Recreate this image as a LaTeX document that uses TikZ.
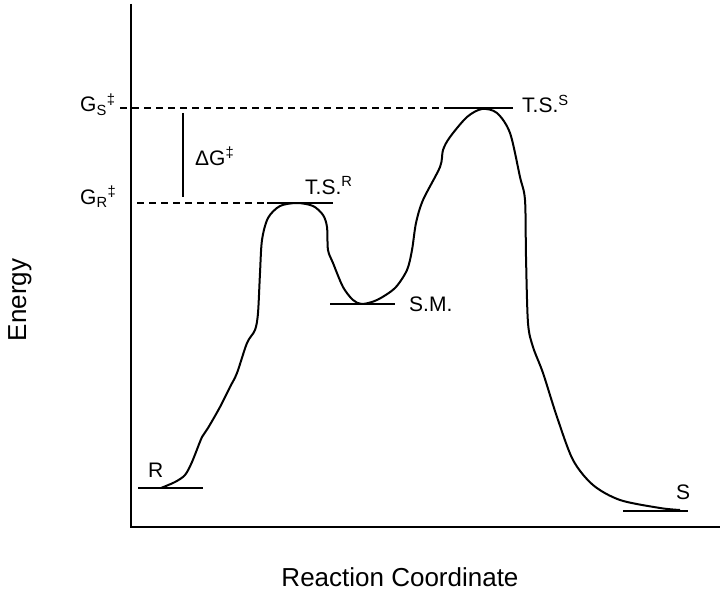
\documentclass[tikz,border=0pt]{standalone}
\usepackage{fontspec}
\setmainfont{Liberation Sans}
\begin{document}
\begin{tikzpicture}[x=1pt,y=-1pt,
  lbl/.style={font=\fontsize{21}{25}\selectfont, inner sep=0pt, anchor=base west},
  axlbl/.style={font=\fontsize{26}{30}\selectfont, inner sep=0pt, anchor=base},
  bar/.style={line width=2pt},
  axisline/.style={line width=2.2pt},
  dashline/.style={line width=1.5pt, dash pattern=on 7pt off 5pt},
  curveline/.style={line width=2pt, line join=round}]
\useasboundingbox (0,0) rectangle (725,599);
% axes
\coordinate (ytop) at (131,4);
\coordinate (origin) at (131,527);
\coordinate (xend) at (720,527);
\draw[axisline] (ytop) -- (origin) -- (xend);
% level bars
\coordinate (Ra) at (138,488); \coordinate (Rb) at (203,488);
\coordinate (TRa) at (267,203); \coordinate (TRb) at (333,203);
\coordinate (SMa) at (330,304); \coordinate (SMb) at (395,304);
\coordinate (TSa) at (450,108); \coordinate (TSb) at (513,108);
\coordinate (Sa) at (623,511); \coordinate (Sb) at (688,511);
\draw[bar] (Ra) -- (Rb);
\draw[bar] (TRa) -- (TRb);
\draw[bar] (SMa) -- (SMb);
\draw[bar] (TSa) -- (TSb);
\draw[bar] (Sa) -- (Sb);
% dashed lines
\coordinate (GSd) at (120,108);
\coordinate (GRd) at (137,203);
\draw[dashline] (GSd) -- (TSa);
\draw[dashline] (GRd) -- (TRa);
% delta G line
\coordinate (dGt) at (183,113);
\coordinate (dGb) at (183,197);
\draw[line width=2pt] (dGt) -- (dGb);
% labels
\node[lbl] (GS) at (80,112) {G\textsubscript{S}\textsuperscript{‡}};
\node[lbl] (GR) at (80,204) {G\textsubscript{R}\textsuperscript{‡}};
\node[lbl] (dG) at (195,165) {ΔG\textsuperscript{‡}};
\node[lbl] (TSR) at (305,194) {T.S.\textsuperscript{R}};
\node[lbl] (TSS) at (522,113) {T.S.\textsuperscript{S}};
\node[lbl] (SM) at (409,311) {S.M.};
\node[lbl] (R) at (148,477) {R};
\node[lbl] (S) at (676,499) {S};
\node[axlbl] (xl) at (400,586) {Reaction Coordinate};
\node[axlbl, rotate=90] (yl) at (26,300) {Energy};
% energy curve
\draw[curveline] plot[smooth, tension=0.5] coordinates {
(161,488) (175,482) (185,475) (192,462) (202,437) (208,428) (220,407)
(230,387) (237,373) (247,343) (255,330) (258,313) (260,273) (262,240)
(268,218) (280,206) (297,203) (313,206) (323,215) (327,227) (328,250)
(333,263) (343,287) (353,300) (362,304) (377,300) (395,288) (407,270)
(412,250) (416,223) (423,200) (440,167) (443,150) (450,137) (467,117)
(482,109) (497,113) (510,133) (520,177) (525,200) (526,257) (528,323)
(533,347) (543,373) (557,417) (573,460) (593,485) (620,500) (660,508) (680,510)};
\end{tikzpicture}
\end{document}
